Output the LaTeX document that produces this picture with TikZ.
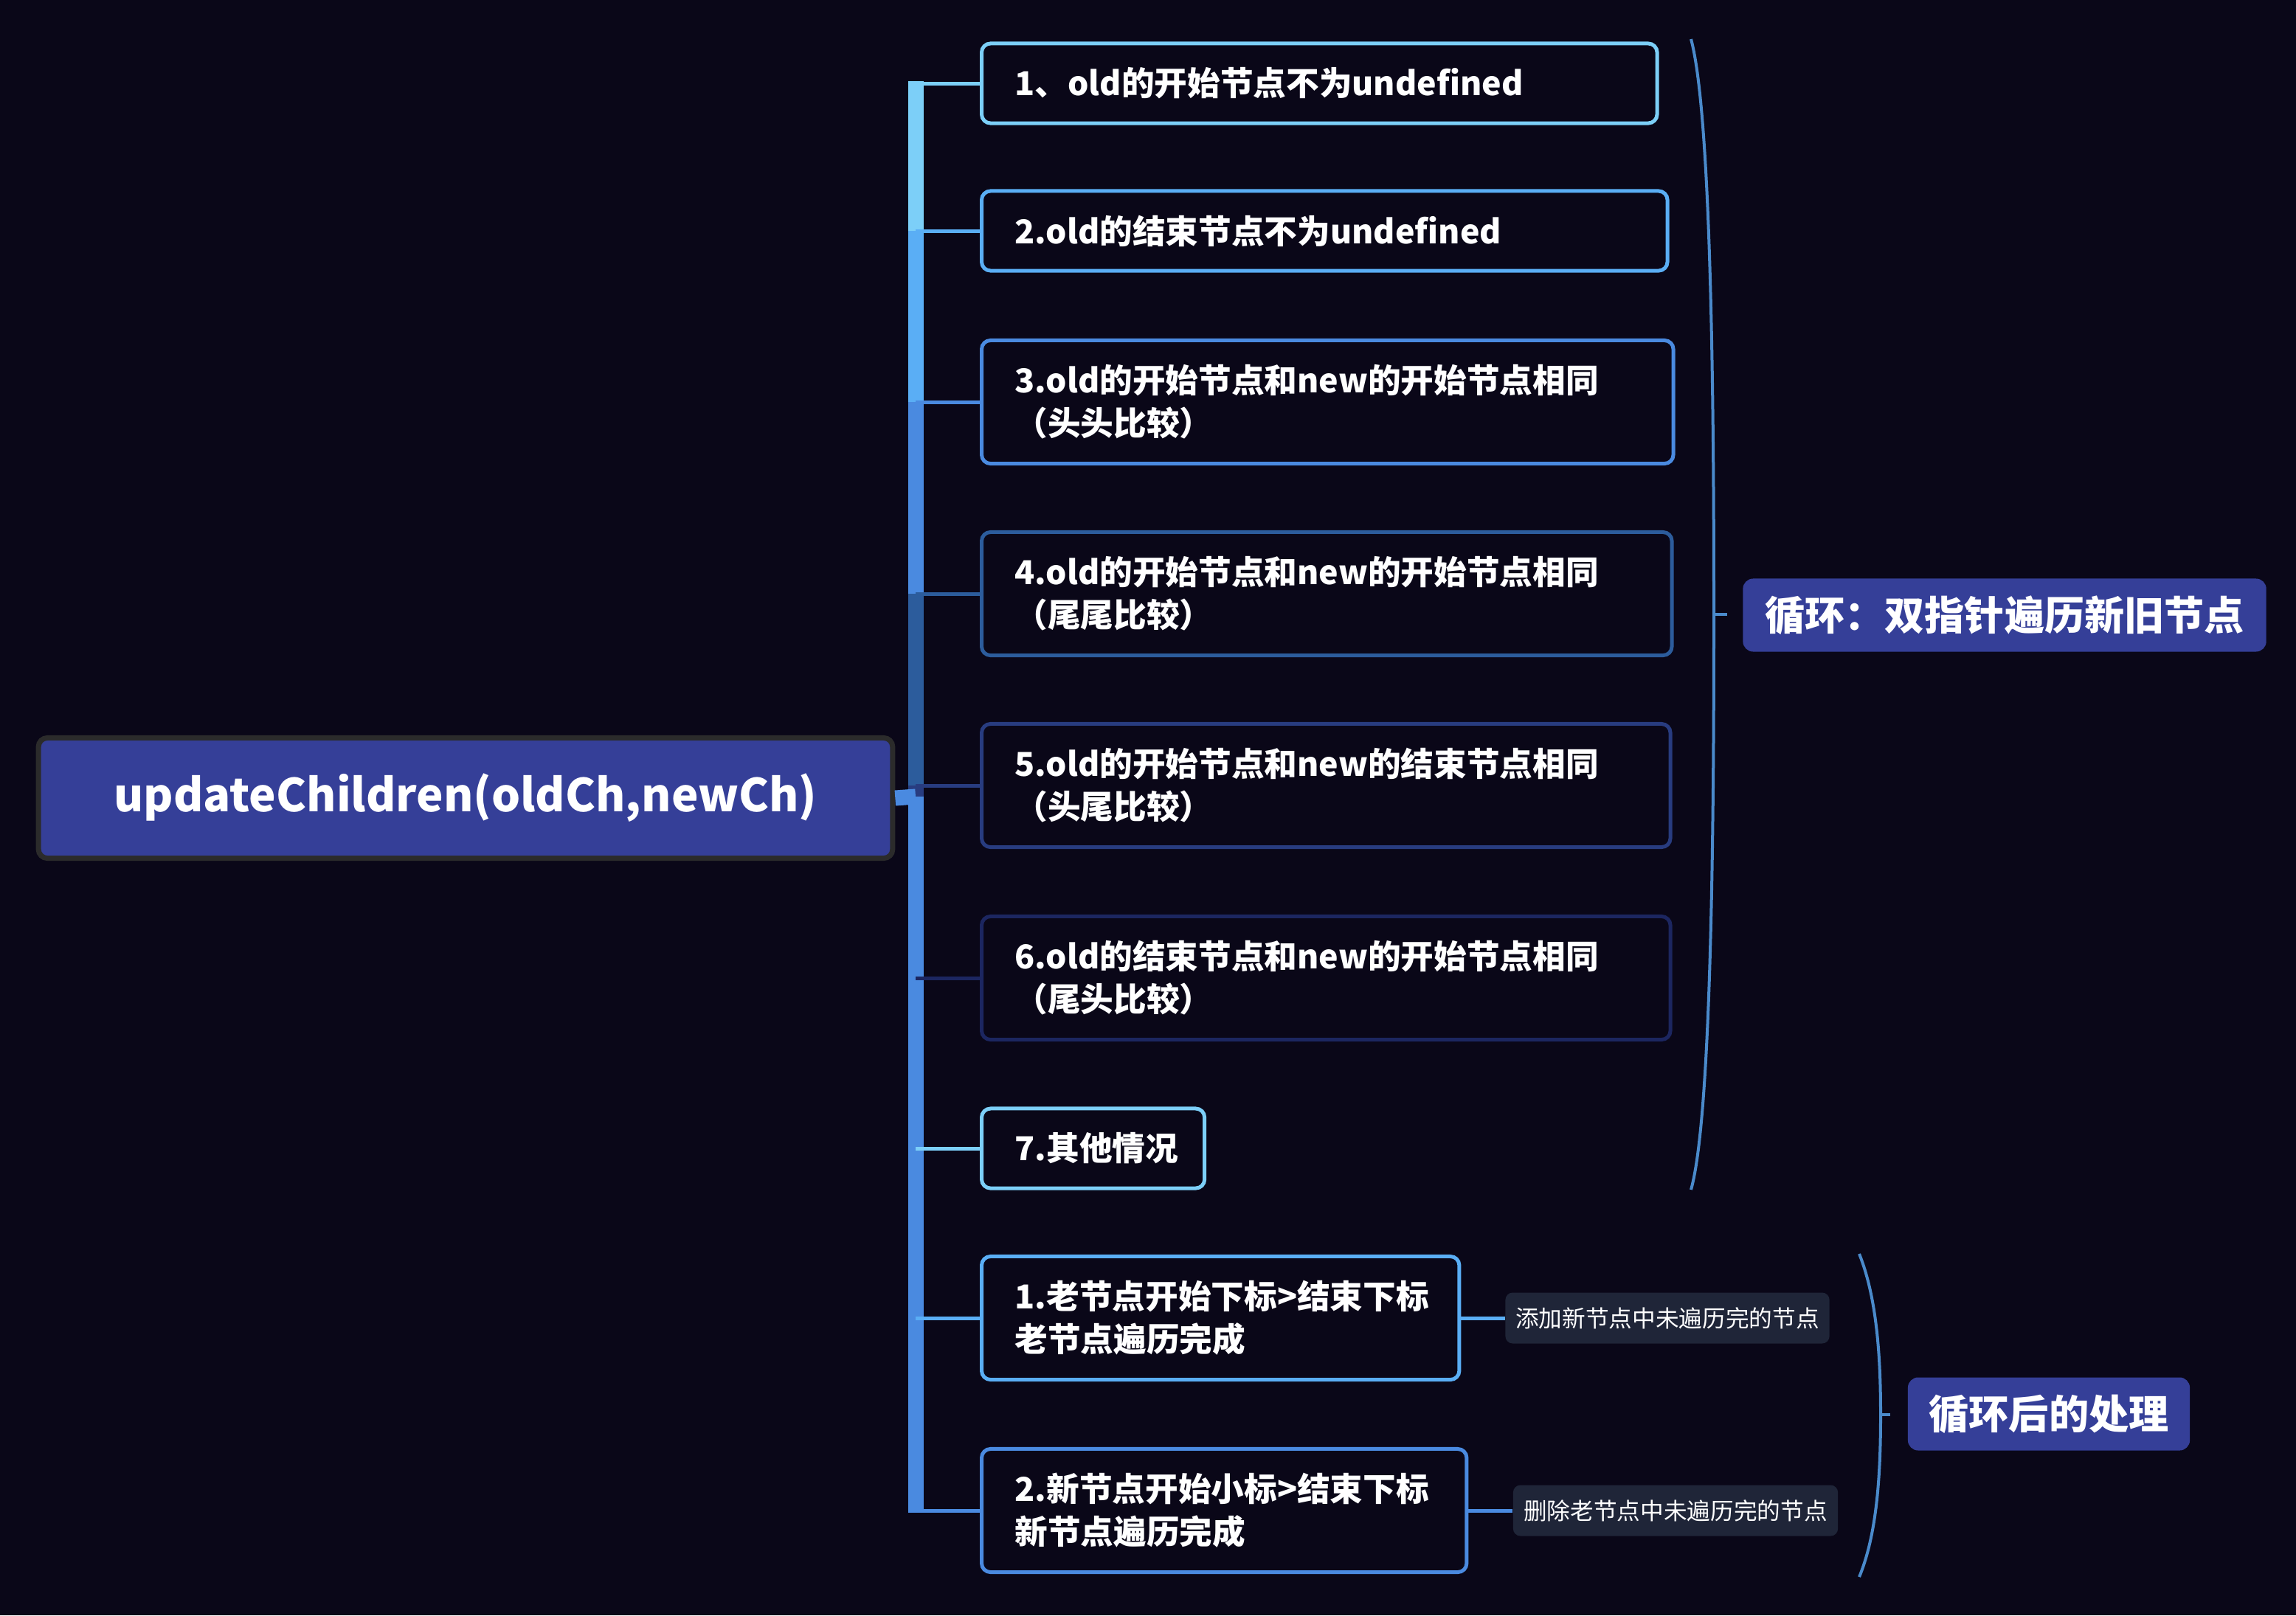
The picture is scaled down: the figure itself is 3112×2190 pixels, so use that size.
\documentclass[tikz,border=0pt]{standalone}
\usepackage{fontspec}
\setmainfont{Noto Sans CJK SC}
\usepackage{tikz}
\usetikzlibrary{positioning}

\definecolor{bgcol}{HTML}{0A0718}
\definecolor{rootcol}{HTML}{353F98}
\definecolor{rootrim}{HTML}{2B2B2B}
\definecolor{tagcol}{HTML}{1F2538}
\definecolor{bracecol}{HTML}{4A8ACB}
\definecolor{colA}{HTML}{7CCFF8}
\definecolor{colB}{HTML}{5AAEF5}
\definecolor{colC}{HTML}{4A8AE0}
\definecolor{colD}{HTML}{2C5C9C}
\definecolor{colE}{HTML}{283C80}
\definecolor{colF}{HTML}{1C2660}

\begin{document}
\begin{tikzpicture}[x=0.01cm,y=-0.01cm,
    root node/.style={rectangle,rounded corners=0.12cm,fill=rootcol,draw=rootrim,line width=0.07cm,text=white,minimum width=11.57cm,minimum height=1.63cm,font=\fontsize{17.5pt}{21pt}\selectfont\bfseries},
    leaf node/.style={rectangle,rounded corners=0.12cm,draw,line width=0.05cm,fill=bgcol,text=white,anchor=west,align=left,inner xsep=0.45cm,font=\fontsize{12.7pt}{16.5pt}\selectfont\bfseries},
    one line/.style={minimum height=1.08cm},
    two lines/.style={minimum height=1.67cm},
    tag node/.style={rectangle,rounded corners=0.1cm,fill=tagcol,text=white,minimum height=0.69cm,font=\fontsize{9pt}{11pt}\selectfont},
    sum node/.style={rectangle,rounded corners=0.14cm,fill=rootcol,text=white,minimum height=0.99cm,font=\fontsize{15.4pt}{18pt}\selectfont\bfseries},
    bar/.style={line width=0.21cm},
    twig/.style={line width=0.05cm},
    brace/.style={draw=bracecol,line width=0.04cm}]
    \fill[bgcol] (0,0) rectangle (3112,2190);
    \useasboundingbox (0,0) rectangle (3112,2190);

    % root and the hub of the branches
    \node[root node] (r) at (631,1082) {updateChildren(oldCh,newCh)};
    \coordinate (hub) at (1241,1080);

    % the nine cases
    \node[leaf node,one line,draw=colA,text width=8.25cm] (n1) at (1328,113) {1、old的开始节点不为undefined};
    \node[leaf node,one line,draw=colB,text width=8.39cm] (n2) at (1328,313) {2.old的结束节点不为undefined};
    \node[leaf node,two lines,draw=colC,text width=8.47cm] (n3) at (1328,545) {3.old的开始节点和new的开始节点相同\\（头头比较）};
    \node[leaf node,two lines,draw=colD,text width=8.45cm] (n4) at (1328,805) {4.old的开始节点和new的开始节点相同\\（尾尾比较）};
    \node[leaf node,two lines,draw=colE,text width=8.43cm] (n5) at (1328,1065) {5.old的开始节点和new的结束节点相同\\（头尾比较）};
    \node[leaf node,two lines,draw=colF,text width=8.43cm] (n6) at (1328,1326) {6.old的结束节点和new的开始节点相同\\（尾头比较）};
    \node[leaf node,one line,draw=colA,text width=2.12cm] (n7) at (1328,1557) {7.其他情况};
    \node[leaf node,two lines,draw=colB,text width=5.57cm] (n8) at (1328,1787) {1.老节点开始下标>结束下标\\老节点遍历完成};
    \node[leaf node,two lines,draw=colC,text width=5.67cm] (n9) at (1328,2048) {2.新节点开始小标>结束下标\\新节点遍历完成};

    % notes
    \node[tag node,minimum width=4.39cm] (t1) at (2260,1787) {添加新节点中未遍历完的节点};
    \node[tag node,minimum width=4.40cm] (t2) at (2271,2048) {删除老节点中未遍历完的节点};

    % summaries
    \node[sum node,minimum width=7.09cm] (s1) at (2717,834) {循环：双指针遍历新旧节点};
    \node[sum node,minimum width=3.82cm] (s2) at (2777,1917) {循环后的处理};

    % thick branches, upper then lower
    \draw[bar,colA] (hub) -- ([yshift=0.03cm]hub |- n1.west);
    \draw[bar,colB] (hub) -- (hub |- n2.west);
    \draw[bar,colC] (hub) -- (hub |- n3.west);
    \draw[bar,colD] (hub) -- (hub |- n4.west);
    \draw[bar,colE] (hub) -- (hub |- n5.west);
    \draw[bar,colF] (hub) -- (hub |- n6.west);
    \draw[bar,colA] (hub) -- (hub |- n7.west);
    \draw[bar,colB] (hub) -- (hub |- n8.west);
    \draw[bar,colC] (hub) -- ([yshift=-0.03cm]hub |- n9.west);
    \draw[bar,colC] (r.east) -- (hub);

    % thin twigs
    \draw[twig,colA] (hub |- n1.west) -- (n1.west);
    \draw[twig,colB] (hub |- n2.west) -- (n2.west);
    \draw[twig,colC] (hub |- n3.west) -- (n3.west);
    \draw[twig,colD] (hub |- n4.west) -- (n4.west);
    \draw[twig,colE] (hub |- n5.west) -- (n5.west);
    \draw[twig,colF] (hub |- n6.west) -- (n6.west);
    \draw[twig,colA] (hub |- n7.west) -- (n7.west);
    \draw[twig,colB] (hub |- n8.west) -- (n8.west);
    \draw[twig,colC] (hub |- n9.west) -- (n9.west);
    \draw[twig,colB] (n8.east) -- (t1.west);
    \draw[twig,colC] (n9.east) -- (t2.west);

    % braces
    \coordinate (u1) at (2292,53);
    \coordinate (m1) at (2323,833);
    \coordinate (d1) at (2292,1613);
    \coordinate (k1) at (2341,833);
    \draw[brace] (u1) .. controls (2318,150) and (2323,500) .. (m1) .. controls (2323,1170) and (2318,1520) .. (d1);
    \draw[brace] (m1) -- (k1);
    \coordinate (u2) at (2520,1700);
    \coordinate (m2) at (2549,1918);
    \coordinate (d2) at (2520,2138);
    \coordinate (k2) at (2562,1918);
    \draw[brace] (u2) .. controls (2544,1760) and (2549,1840) .. (m2) .. controls (2549,2000) and (2544,2080) .. (d2);
    \draw[brace] (m2) -- (k2);
  \end{tikzpicture}
\end{document}
